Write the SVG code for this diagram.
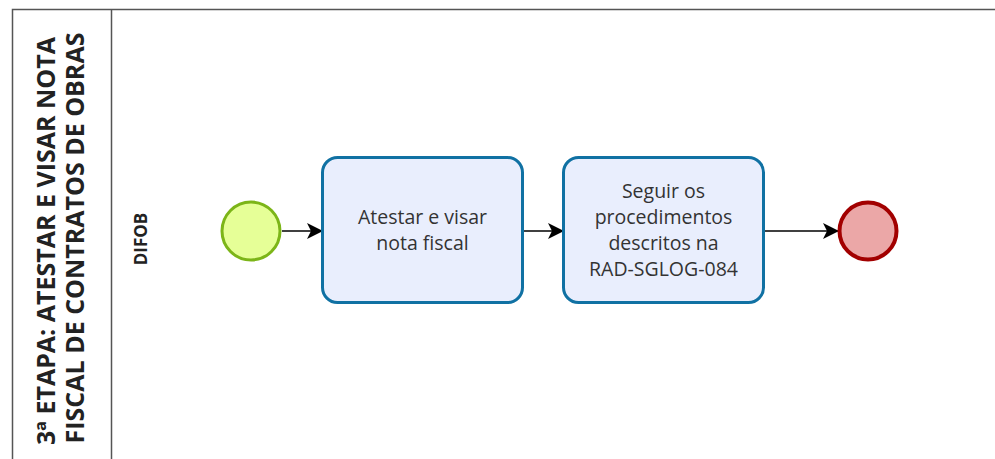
<svg xmlns="http://www.w3.org/2000/svg" width="995" height="459" viewBox="0 0 995 459">
<style>
.pool{fill:none;stroke:#555;stroke-width:1.5}
.title{font-family:"Open Sans",sans-serif;font-weight:bold;font-size:25px;fill:#222;text-anchor:middle}
.lane{font-family:"Open Sans",sans-serif;font-weight:bold;font-size:17px;fill:#222;text-anchor:middle}
.task{fill:#e9eefd;stroke:#1071a3;stroke-width:3}
.tt{font-family:"Open Sans",sans-serif;font-size:19.5px;fill:#333;text-anchor:middle}
.flow{stroke:#000;stroke-width:1.5;fill:none}
</style>
<defs>
<marker id="arr" viewBox="0 0 16 16" refX="15" refY="8" markerWidth="16" markerHeight="16" markerUnits="userSpaceOnUse" orient="auto">
<path d="M0,0 L16,8 L0,16 L4,8 Z" fill="#000"/>
</marker>
</defs>
<rect width="995" height="459" fill="#fff"/>
<g id="pool">
<path class="pool" d="M12.5,460 V9.5 H995 M111.5,9.5 V460"/>
<text class="title" transform="translate(55,241) rotate(-90)">3ª ETAPA: ATESTAR E VISAR NOTA</text>
<text class="title" transform="translate(84,238) rotate(-90)">FISCAL DE CONTRATOS DE OBRAS</text>
</g>
<g id="lane">
<text class="lane" transform="translate(147,239) rotate(-90)">DIFOB</text>
</g>
<g id="connectors">
<line class="flow" x1="282" y1="231" x2="322" y2="231" marker-end="url(#arr)"/>
<line class="flow" x1="523" y1="231" x2="563" y2="231" marker-end="url(#arr)"/>
<line class="flow" x1="764" y1="231" x2="838" y2="231" marker-end="url(#arr)"/>
</g>
<g id="start">
<circle cx="251" cy="231" r="29" fill="#e6ff97" stroke="#7cb518" stroke-width="3"/>
</g>
<g id="task1">
<rect class="task" x="322.5" y="157.5" width="200" height="145" rx="15"/>
<text class="tt" x="422.5" y="224">Atestar e visar</text>
<text class="tt" x="422.5" y="250">nota fiscal</text>
</g>
<g id="task2">
<rect class="task" x="563.5" y="157.5" width="200" height="145" rx="15"/>
<text class="tt" x="663.5" y="198">Seguir os</text>
<text class="tt" x="663.5" y="224">procedimentos</text>
<text class="tt" x="663.5" y="250">descritos na</text>
<text class="tt" x="663.5" y="276">RAD-SGLOG-084</text>
</g>
<g id="end">
<circle cx="868" cy="231" r="28.5" fill="#eba7a7" stroke="#a20000" stroke-width="4"/>
</g>
</svg>
